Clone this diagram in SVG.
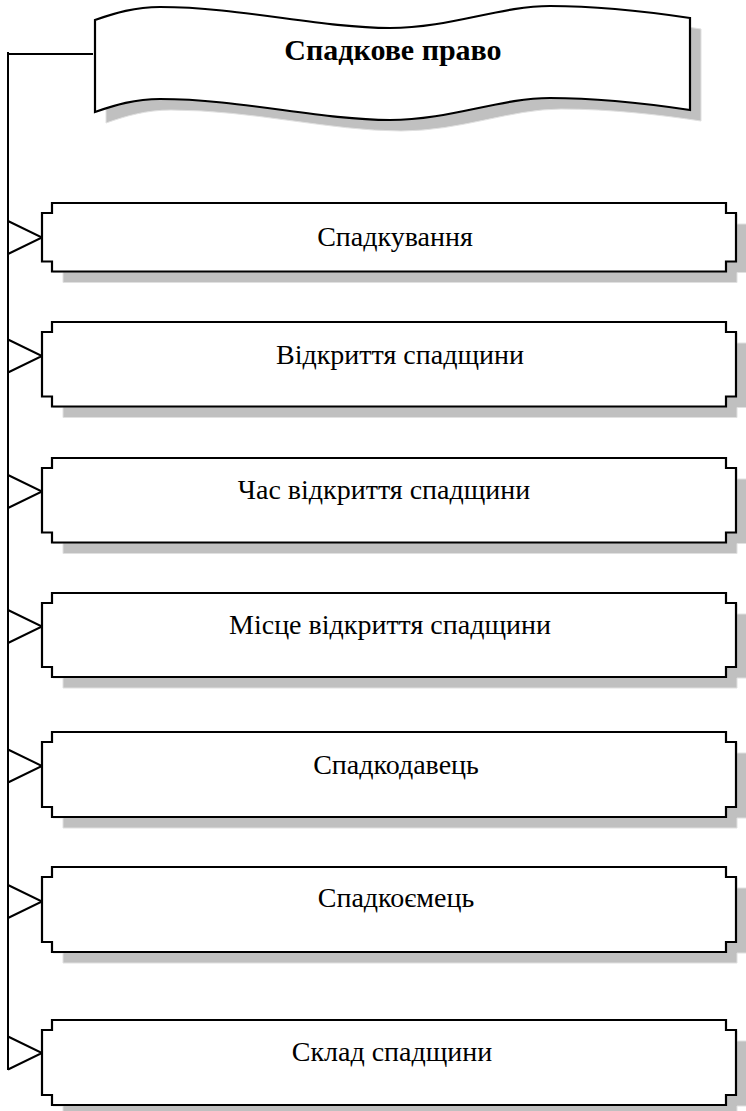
<svg xmlns="http://www.w3.org/2000/svg" width="746" height="1111" viewBox="0 0 746 1111">
<style>
.sh{fill:#c0c0c0;stroke:#e0e0e0;stroke-width:1}
.bx{fill:#fff;stroke:#000;stroke-width:2.2}
.ln{fill:none;stroke:#000;stroke-width:2}
.lb{font-family:"Liberation Serif","Times New Roman",serif;font-size:28px;text-anchor:middle;fill:#000}
.tt{font-family:"Liberation Serif","Times New Roman",serif;font-size:30px;font-weight:bold;text-anchor:middle;fill:#000}
</style>
<rect width="746" height="1111" fill="#fff"/>
<g id="title">
<path class="sh" transform="translate(11,11)" d="M95,20 C115,13 135,7 160,7 C240,7 320,28 390,28 C450,28 500,6 550,6 C600,6 650,12 690,18 L690,110 C650,104 600,98 550,98 C500,98 450,120 390,120 C320,120 240,99 160,99 C135,99 115,105 95,112 Z"/>
<path class="bx" d="M95,20 C115,13 135,7 160,7 C240,7 320,28 390,28 C450,28 500,6 550,6 C600,6 650,12 690,18 L690,110 C650,104 600,98 550,98 C500,98 450,120 390,120 C320,120 240,99 160,99 C135,99 115,105 95,112 Z"/>
<text class="tt" x="393" y="60">Спадкове право</text>
</g>
<g id="connectors">
<path class="ln" d="M8,52 V1070 M7,54 H93"/>
<polyline class="ln" points="8,221 42,237.5 8,254"/>
<polyline class="ln" points="8,339.5 42,356 8,372.5"/>
<polyline class="ln" points="8,475 42,491.5 8,508"/>
<polyline class="ln" points="8,610 42,626.5 8,643"/>
<polyline class="ln" points="8,749.5 42,766 8,782.5"/>
<polyline class="ln" points="8,885 42,901.5 8,918"/>
<polyline class="ln" points="8,1036.5 42,1053 8,1069.5"/>
</g>
<g id="n1">
<path class="sh" transform="translate(11,11)" d="M52,203 H726 V213 H736 V261.5 H726 V271.5 H52 V261.5 H42 V213 H52 Z"/>
<path class="bx" d="M52,203 H726 V213 H736 V261.5 H726 V271.5 H52 V261.5 H42 V213 H52 Z"/>
<text class="lb" x="395" y="246">Спадкування</text>
</g>
<g id="n2">
<path class="sh" transform="translate(11,11)" d="M52,322 H726 V332 H736 V396.5 H726 V406.5 H52 V396.5 H42 V332 H52 Z"/>
<path class="bx" d="M52,322 H726 V332 H736 V396.5 H726 V406.5 H52 V396.5 H42 V332 H52 Z"/>
<text class="lb" x="400" y="364">Відкриття спадщини</text>
</g>
<g id="n3">
<path class="sh" transform="translate(11,11)" d="M52,458 H726 V468 H736 V532.5 H726 V542.5 H52 V532.5 H42 V468 H52 Z"/>
<path class="bx" d="M52,458 H726 V468 H736 V532.5 H726 V542.5 H52 V532.5 H42 V468 H52 Z"/>
<text class="lb" x="384" y="499">Час відкриття спадщини</text>
</g>
<g id="n4">
<path class="sh" transform="translate(11,11)" d="M52,593 H726 V603 H736 V667 H726 V677 H52 V667 H42 V603 H52 Z"/>
<path class="bx" d="M52,593 H726 V603 H736 V667 H726 V677 H52 V667 H42 V603 H52 Z"/>
<text class="lb" x="390" y="634">Місце відкриття спадщини</text>
</g>
<g id="n5">
<path class="sh" transform="translate(11,11)" d="M52,732 H726 V742 H736 V807 H726 V817 H52 V807 H42 V742 H52 Z"/>
<path class="bx" d="M52,732 H726 V742 H736 V807 H726 V817 H52 V807 H42 V742 H52 Z"/>
<text class="lb" x="396" y="774">Спадкодавець</text>
</g>
<g id="n6">
<path class="sh" transform="translate(11,11)" d="M52,867 H726 V877 H736 V942 H726 V952 H52 V942 H42 V877 H52 Z"/>
<path class="bx" d="M52,867 H726 V877 H736 V942 H726 V952 H52 V942 H42 V877 H52 Z"/>
<text class="lb" x="396" y="907">Спадкоємець</text>
</g>
<g id="n7">
<path class="sh" transform="translate(11,11)" d="M52,1020 H726 V1030 H736 V1095 H726 V1105 H52 V1095 H42 V1030 H52 Z"/>
<path class="bx" d="M52,1020 H726 V1030 H736 V1095 H726 V1105 H52 V1095 H42 V1030 H52 Z"/>
<text class="lb" x="392" y="1061">Склад спадщини</text>
</g>
</svg>
